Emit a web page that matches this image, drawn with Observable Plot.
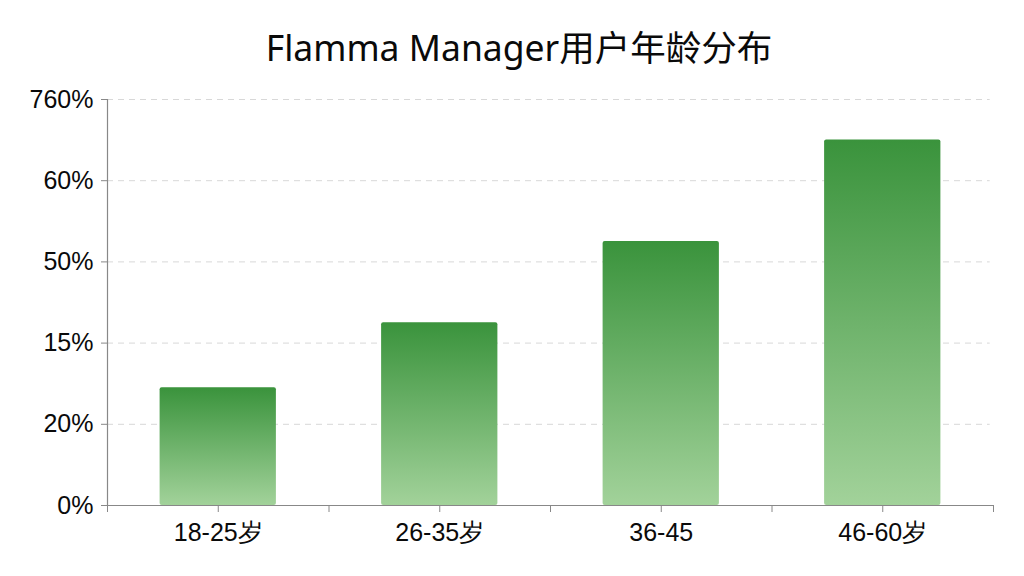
<!DOCTYPE html>
<html><head><meta charset="utf-8">
<script src="https://cdn.jsdelivr.net/npm/d3@7"></script>
<script src="https://cdn.jsdelivr.net/npm/@observablehq/plot@0.6"></script>
<style>
body{margin:0;background:#fff;width:1024px;height:576px;overflow:hidden;}
#title{height:80px;line-height:94px;text-align:center;padding-left:14px;font-family:"Noto Sans","Noto Sans CJK SC",sans-serif;font-size:35.5px;color:#0a0a0a;}
</style></head>
<body>
<div id="title">Flamma Manager用户年龄分布</div>
<div id="chart"></div>
<script>
const categories = ["18-25岁", "26-35岁", "36-45", "46-60岁"];
const values = [29, 45, 65, 90];
const yTicks = [0, 20, 40, 60, 80, 100];
const yTickLabels = ["0%", "20%", "15%", "50%", "60%", "760%"];

const data = categories.map((c, i) => ({cat: c, idx: i, value: values[i]}));
const half = 0.2625;

const defs = () => {
  const ns = "http://www.w3.org/2000/svg";
  const d = document.createElementNS(ns, "defs");
  const g = document.createElementNS(ns, "linearGradient");
  g.setAttribute("id", "barGrad");
  g.setAttribute("x1", "0"); g.setAttribute("y1", "0");
  g.setAttribute("x2", "0"); g.setAttribute("y2", "1");
  [["0%", "#3a933c"], ["100%", "#a2d29a"]].forEach(([o, c]) => {
    const s = document.createElementNS(ns, "stop");
    s.setAttribute("offset", o); s.setAttribute("stop-color", c);
    g.appendChild(s);
  });
  d.appendChild(g);
  return d;
};

const xTicks = d3.range(0, categories.length + 0.01, 0.5);

const chart = Plot.plot({
  width: 1024,
  height: 496,
  marginTop: 19,
  marginBottom: 71,
  marginLeft: 107,
  marginRight: 31,
  style: {fontFamily: "'Liberation Sans', Arial, sans-serif", fontSize: "25px", color: "#0a0a0a", background: "#fff"},
  x: {domain: [0, categories.length], axis: null},
  y: {domain: [0, 100], axis: null},
  marks: [
    defs,
    Plot.ruleY(yTicks, {stroke: "#d8d8d8", strokeDasharray: "6,5", x1: 0, x2: 3.985}),
    Plot.rectY(data, {x1: d => d.idx + 0.5 - half, x2: d => d.idx + 0.5 + half, y1: 0, y2: "value", fill: "url(#barGrad)", rx: 2}),
    Plot.ruleX([0], {y1: 0, y2: 100, stroke: "#888", strokeWidth: 1.2}),
    Plot.ruleY([0], {stroke: "#888", strokeWidth: 1.2}),
    Plot.axisY(yTicks, {label: null, tickSize: 6, tickPadding: 8, stroke: "#888", tickFormat: d => yTickLabels[yTicks.indexOf(d)], fontSize: 25, fill: "#0a0a0a"}),
    Plot.axisX(xTicks, {label: null, tickSize: 7, tickPadding: 11, stroke: "#888", tickFormat: d => (d % 1 === 0.5 ? categories[Math.floor(d)] : ""), fontSize: 25, fill: "#0a0a0a"})
  ]
});
document.getElementById("chart").appendChild(chart);
</script>
</body></html>
